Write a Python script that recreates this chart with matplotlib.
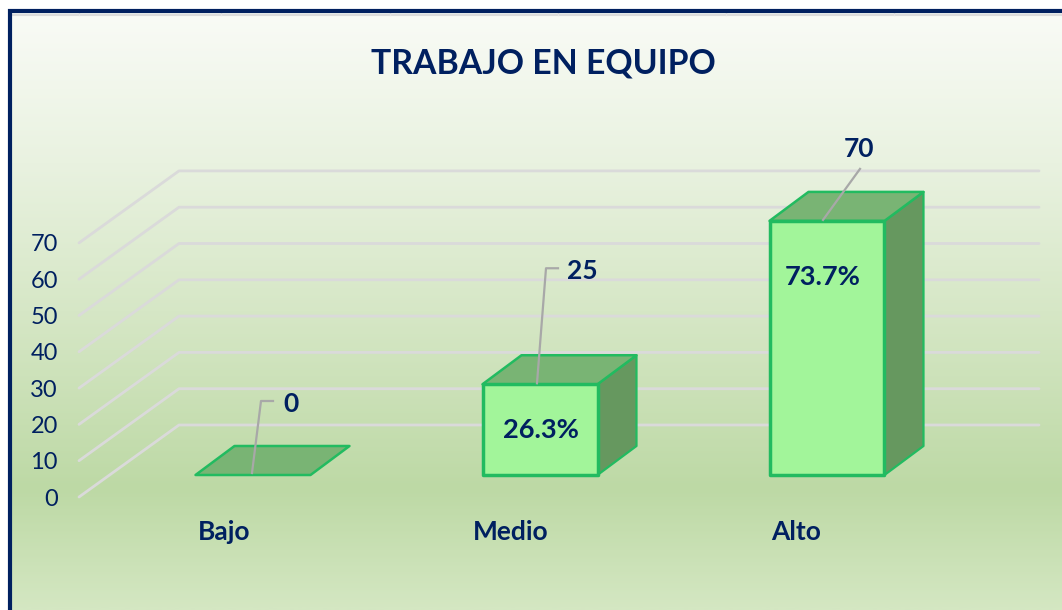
import matplotlib.pyplot as plt
from matplotlib.colors import LinearSegmentedColormap
from matplotlib.patches import Polygon
import numpy as np

plt.rcParams['font.family'] = ['Lato', 'DejaVu Sans']

categories = ['Bajo', 'Medio', 'Alto']
counts = [0, 25, 70]
percents = ['', '26.3%', '73.7%']
ticks = [0, 10, 20, 30, 40, 50, 60, 70]

NAVY = '#002060'
PX_X = 287.0   # pixels per category
PX_Y = 3.63    # pixels per unit


def px(x, y):
    # picture pixels to data coords
    return (x - 253) / PX_X, (475 - y) / PX_Y


fig = plt.figure(figsize=(10.62, 6.10), dpi=100)
ax = fig.add_axes([0, 0, 1, 1])
x0, y_bottom = px(0, 610)
x1, y_top = px(1062, 0)
ax.set_xlim(x0, x1)
ax.set_ylim(y_bottom, y_top)
ax.axis('off')

# background
cmap = LinearSegmentedColormap.from_list('bg', [
    (0.0, '#f9fbf6'), (0.25, '#e9f2e0'), (0.5, '#d6e7c6'),
    (0.8, '#bdd9a5'), (1.0, '#d4e7c2')])
grad = np.linspace(0, 1, 300).reshape(-1, 1)
bx0, by0 = px(11, 13)
bx1, by1 = px(1062, 610)
ax.imshow(grad, cmap=cmap, extent=[bx0, bx1, by1, by0], aspect='auto', zorder=0)
ax.set_xlim(x0, x1)
ax.set_ylim(y_bottom, y_top)

# frame, open at the bottom
lx, _ = px(9.5, 0)
_, ty = px(0, 11)
ax.plot([lx, lx, x1], [y_bottom, ty, ty], color=NAVY, lw=3, zorder=5,
        solid_joinstyle='miter')
_, sy = px(0, 15)
ax.plot([bx0, x1], [sy, sy], color='#dcdcdc', lw=1.5, zorder=1)
for tx in [79, 221, 390, 558, 726, 894]:
    ax.plot([px(tx, 0)[0]] * 2, [px(0, 13)[1], sy], color='#e4e4e4', lw=1, zorder=1)

# grid
front_x = px(79, 0)[0]
back_x = px(179, 0)[0]
right_x = px(1039, 0)[0]
front_dy = px(0, 497)[1]
back_dy = px(0, 425)[1]
for t in ticks:
    ax.plot([front_x, back_x, right_x], [t + front_dy, t + back_dy, t + back_dy],
            color='#dadada', lw=2, zorder=2, solid_capstyle='round')
    ax.text(px(58, 0)[0], t + front_dy - 2 / PX_Y, str(t), ha='right', va='center',
            fontsize=17, color=NAVY, zorder=6)

# bars
half = 57.5 / PX_X
dx = 39 / PX_X
dy = 29 / PX_Y
EDGE = '#22bb60'
label_left = [198, 473, 771]
for i, v in enumerate(counts):
    l, r = i - half, i + half
    if v > 0:
        ax.add_patch(Polygon([(r, 0), (r + dx, dy), (r + dx, v + dy), (r, v)],
                             fc='#66985f', ec=EDGE, lw=1.6, zorder=3,
                             joinstyle='round'))
        ax.add_patch(Polygon([(l, 0), (r, 0), (r, v), (l, v)],
                             fc='#a2f59a', ec=EDGE, lw=2.5, zorder=4,
                             joinstyle='round'))
    ax.add_patch(Polygon([(l, v), (r, v), (r + dx, v + dy), (l + dx, v + dy)],
                         fc='#79b474', ec=EDGE, lw=1.8, zorder=3.5,
                         joinstyle='round'))
    ax.text(px(label_left[i], 0)[0], px(0, 532.5)[1], categories[i], ha='left',
            va='center', fontsize=19, fontweight='bold', color=NAVY, zorder=6)

# percent labels
pct_y = [None, v_m if (v_m := counts[1] / 2) else 0, counts[2] - 56 / PX_Y]
pct_off = [0, 0.5, -4]
for i, label in enumerate(percents):
    if label:
        ax.text(i + pct_off[i] / PX_X, pct_y[i], label, ha='center', va='center',
                fontsize=19.6, fontweight='bold', color=NAVY, zorder=6)

# leader lines and count labels, offsets from top of the front face
leaders = [
    [(-1, 2), (8, 74), (20, 74)],
    [(-3, 1), (6, 116), (18, 116)],
    [(-4, 1), (33, 52)],
]
label_off = [(38, 71), (42, 113), (32, 72)]
for i, v in enumerate(counts):
    xs = [i + p[0] / PX_X for p in leaders[i]]
    ys = [v + p[1] / PX_Y for p in leaders[i]]
    ax.plot(xs, ys, color='#a8a8a8', lw=1.6, zorder=5)
    ax.text(i + label_off[i][0] / PX_X, v + label_off[i][1] / PX_Y, str(v),
            ha='center', va='center', fontsize=19, fontweight='bold',
            color=NAVY, zorder=6)

# title
ax.text(px(543, 0)[0], px(0, 61)[1] - 3 / PX_Y, 'TRABAJO EN EQUIPO', ha='center',
        va='center', fontsize=24.3, fontweight='bold', color=NAVY, zorder=6)

fig.savefig('out.png', dpi=100)
